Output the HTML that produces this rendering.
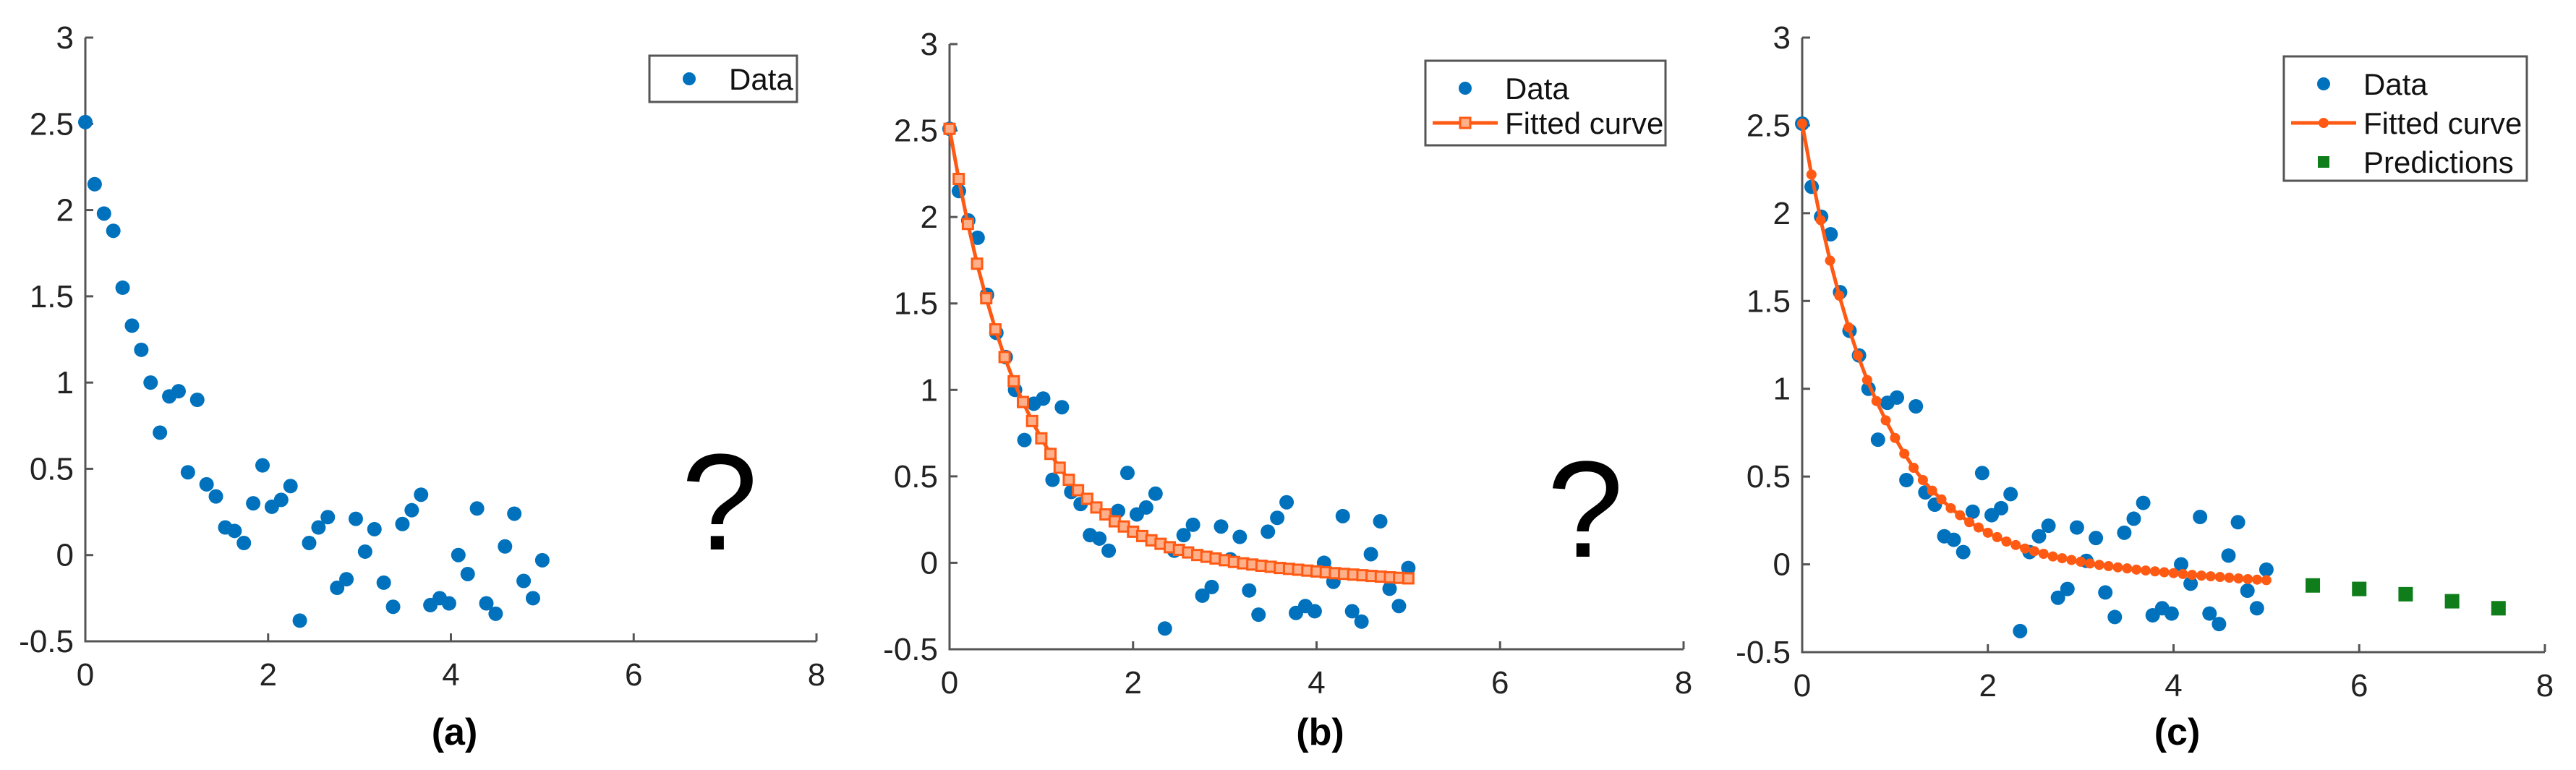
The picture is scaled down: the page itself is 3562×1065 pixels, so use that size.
<!DOCTYPE html>
<html><head><meta charset="utf-8"><style>
html,body{margin:0;padding:0;background:#fff;}
svg{display:block;font-family:"Liberation Sans",Arial,sans-serif;}
</style></head><body>
<svg id="fig" width="3562" height="1065" viewBox="0 0 3562 1065" xmlns="http://www.w3.org/2000/svg"></svg>
<script>
const dataY = [2.51,2.15,1.98,1.88,1.55,1.33,1.19,1.0,0.71,0.92,0.95,0.48,0.90,0.41,0.34,0.16,0.14,0.07,0.30,0.52,0.28,0.32,0.40,-0.38,0.07,0.16,0.22,-0.19,-0.14,0.21,0.02,0.15,-0.16,-0.30,0.18,0.26,0.35,-0.29,-0.25,-0.28,0.0,-0.11,0.27,-0.28,-0.34,0.05,0.24,-0.15,-0.25,-0.03];
const fitY = [2.51,2.22,1.96,1.73,1.53,1.35,1.19,1.05,0.93,0.82,0.72,0.63,0.55,0.48,0.42,0.37,0.32,0.28,0.24,0.21,0.18,0.155,0.13,0.11,0.09,0.075,0.06,0.045,0.035,0.025,0.015,0.005,-0.003,-0.01,-0.017,-0.023,-0.03,-0.035,-0.04,-0.045,-0.05,-0.055,-0.06,-0.064,-0.068,-0.072,-0.076,-0.08,-0.084,-0.087,-0.09];
const predX = [5.5,6,6.5,7,7.5];
const predY = [-0.12,-0.14,-0.17,-0.21,-0.25];
const xTicks = [0,2,4,6,8];
const yTicks = [-0.5,0,0.5,1,1.5,2,2.5,3];
const yTickLabels = ["-0.5","0","0.5","1","1.5","2","2.5","3"];

const NS="http://www.w3.org/2000/svg";
const svg=document.getElementById('fig');
function el(tag,attrs,parent){const e=document.createElementNS(NS,tag);for(const k in attrs)e.setAttribute(k,attrs[k]);(parent||svg).appendChild(e);return e;}

const panels=[
 {id:'a',x0:118,x8:1129,yt:52,yb:887,fit:null,pred:false,legend:[898,77,1102,141],q:[995,760]},
 {id:'b',x0:1313,x8:2328,yt:61,yb:898,fit:'square',pred:false,legend:[1971,84,2303,201],q:[2192,770]},
 {id:'c',x0:2492,x8:3519,yt:52,yb:902,fit:'circle',pred:true,legend:[3158,78,3494,250],q:null}
];
const BLUE='#0072BD',ORANGE='#FF5A14',GREEN='#0E7D1A';

panels.forEach(p=>{
  const g=el('g',{});
  
  
  const sx=v=>p.x0+(p.x8-p.x0)*v/8;
  const sy=v=>p.yb-(p.yb-p.yt)*(v+0.5)/3.5;
  // axes
  const ax=el('path',{d:`M${p.x0},${p.yt} V${p.yb} H${p.x8}`,fill:'none',stroke:'#555',"stroke-width":3},g);
  
  
  xTicks.forEach(t=>{
    el('line',{x1:sx(t),x2:sx(t),y1:p.yb,y2:p.yb-11,stroke:'#555',"stroke-width":3},g);
    const tx=el('text',{x:sx(t),y:p.yb+61,"font-size":44,"text-anchor":'middle',fill:'#222'},g);
    tx.textContent=t;
    
    
  });
  yTicks.forEach((t,i)=>{
    el('line',{x1:p.x0,x2:p.x0+11,y1:sy(t),y2:sy(t),stroke:'#555',"stroke-width":3},g);
    const tx=el('text',{x:p.x0-16,y:sy(t)+15,"font-size":44,"text-anchor":'end',fill:'#222'},g);
    tx.textContent=yTickLabels[i];
    
    
  });
  // data
  dataY.forEach((v,i)=>{
    const c=el('circle',{cx:sx(5*i/(dataY.length-1)),cy:sy(v),r:10,fill:BLUE},g);
    
    
  });
  if(p.fit){
    const pts=fitY.map((v,i)=>sx(i*0.1)+','+sy(v)).join(' ');
    const l=el('polyline',{points:pts,fill:'none',stroke:ORANGE,"stroke-width":5},g);
    
    
    fitY.forEach((v,i)=>{
      let m;
      if(p.fit==='square') m=el('rect',{x:sx(i*0.1)-7,y:sy(v)-7,width:14,height:14,fill:'#FFB08A',stroke:ORANGE,"stroke-width":3},g);
      else m=el('circle',{cx:sx(i*0.1),cy:sy(v),r:7,fill:ORANGE},g);
      
      
    });
  }
  if(p.pred){
    predX.forEach((x,i)=>{
      const r=el('rect',{x:sx(x)-10,y:sy(predY[i])-10,width:20,height:20,fill:GREEN},g);
      
      
    });
  }
  // legend
  const [lx1,ly1,lx2,ly2]=p.legend;
  const lg=el('g',{},g);
  
  
  el('rect',{x:lx1,y:ly1,width:lx2-lx1,height:ly2-ly1,fill:'#fff',stroke:'#555',"stroke-width":3},lg);
  const entries=[['Data','dot']];
  if(p.fit) entries.push(['Fitted curve',p.fit]);
  if(p.pred) entries.push(['Predictions','green']);
  const textX = p.id==='a'? lx1+110 : lx1+110;
  const symX = p.id==='a'? lx1+55 : lx1+55;
  entries.forEach((e,i)=>{
    const cy=ly1+(p.id==='a'?32:(p.id==='b'?38:38+i*54))+(p.id==='b'?i*48:0);
    if(e[1]==='dot') el('circle',{cx:symX,cy:cy,r:9,fill:BLUE},lg);
    else if(e[1]==='square'){el('line',{x1:lx1+10,x2:lx1+100,y1:cy,y2:cy,stroke:ORANGE,"stroke-width":5},lg);el('rect',{x:symX-7,y:cy-7,width:14,height:14,fill:'#FFB08A',stroke:ORANGE,"stroke-width":3},lg);}
    else if(e[1]==='circle'){el('line',{x1:lx1+10,x2:lx1+100,y1:cy,y2:cy,stroke:ORANGE,"stroke-width":5},lg);el('circle',{cx:symX,cy:cy,r:7,fill:ORANGE},lg);}
    else el('rect',{x:symX-8,y:cy-8,width:16,height:16,fill:GREEN},lg);
    const t=el('text',{x:textX,y:cy+15,"font-size":42,fill:'#111'},lg);
    t.textContent=e[0];
    
    
  });
  if(p.q){
    const q=el('text',{x:p.q[0],y:p.q[1],"font-size":190,"text-anchor":'middle',fill:'#000'},g);
    q.textContent='?';
    
    
  }
  const cap=el('text',{x:(p.x0+p.x8)/2+5,y:1030,"font-size":52,"font-weight":'bold',"text-anchor":'middle',fill:'#000'},g);
  cap.textContent='('+p.id+')';
  
  
});
</script>
</body></html>
